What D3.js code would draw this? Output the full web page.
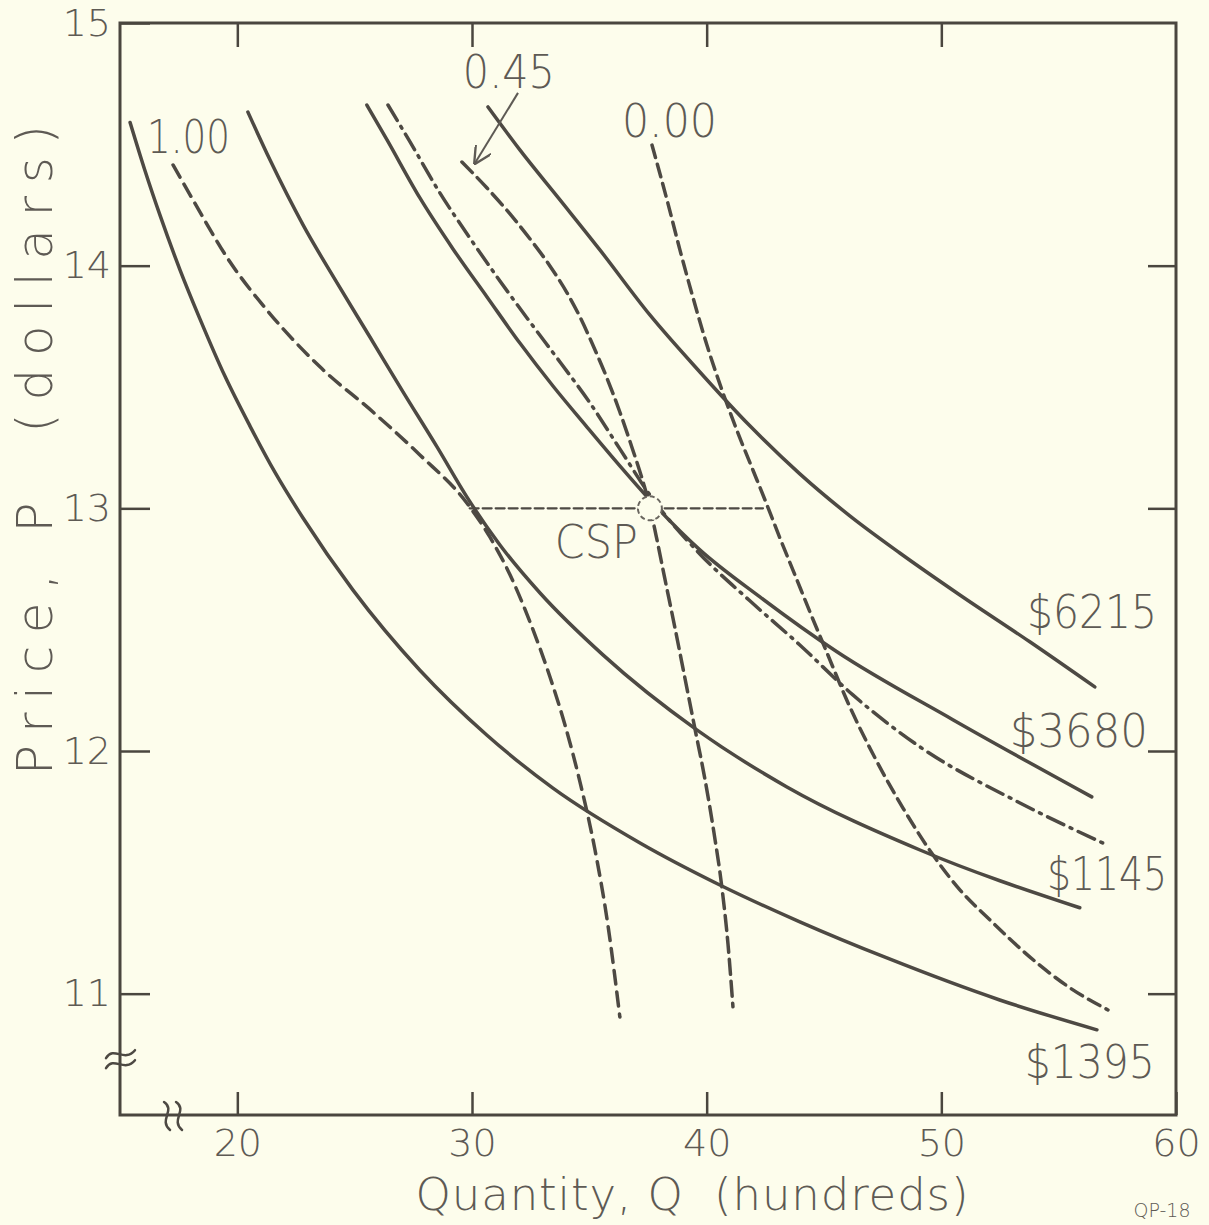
<!DOCTYPE html>
<meta charset="utf-8">
<style>
body { margin: 0; background: #fdfdec; }
svg { display: block; }
.frame { fill: none; stroke: #4a463f; stroke-width: 3px; }
.axis path.domain { display: none; }
.axis line { stroke: #4a463f; stroke-width: 2.5px; }
.axis text { font-family: "DejaVu Sans", sans-serif; font-weight: 200; font-size: 38px; fill: #5e5a54; }
.curve { fill: none; stroke: #4d4943; stroke-width: 3.5px; stroke-linecap: round; }
.lbl { font-family: "DejaVu Sans", sans-serif; font-weight: 200; fill: #5e5a54; white-space: pre; }
</style>
<svg width="1209" height="1225"></svg>
<script src="https://d3js.org/d3.v7.min.js"></script>
<script>
// tick values
var qTicks = [20, 30, 40, 50, 60];
var pTicks = [11, 12, 13, 14, 15];

// curves: [quantity (hundreds), price (dollars)]
var profit6215 = [[30.68,14.654],[32.04,14.477],[33.75,14.271],[35.45,14.065],[37.58,13.797],[39.71,13.562],
  [41.84,13.34],[43.97,13.142],[46.1,12.969],[48.23,12.816],[50.79,12.643],[53.77,12.45],[56.54,12.264]];
var profit3680 = [[25.52,14.662],[26.38,14.518],[27.78,14.279],[29.19,14.069],[30.64,13.871],[32.04,13.681],
  [33.45,13.504],[34.9,13.335],[36.3,13.175],[37.58,13.035],[39.71,12.829],[42.27,12.635],[45.55,12.409],
  [50.49,12.129],[56.41,11.811]];
var profit1145 = [[20.45,14.633],[21.39,14.436],[22.8,14.168],[24.25,13.929],[25.65,13.706],[27.06,13.48],
  [28.51,13.253],[29.78,13.047],[31.19,12.849],[32.9,12.651],[35.58,12.396],[39.58,12.087],[43.42,11.852],
  [49.09,11.592],[55.9,11.354]];
var profit1395 = [[15.43,14.59],[16.07,14.39],[16.7,14.209],[17.56,13.982],[18.41,13.78],[19.47,13.545],
  [20.54,13.339],[21.6,13.149],[22.8,12.96],[24.93,12.663],[27.78,12.333],[30.64,12.065],[33.45,11.847],
  [37.16,11.621],[40.56,11.448],[43.97,11.296],[47.68,11.147],[52.49,10.974],[56.63,10.851]];
var demand100 = [[17.26,14.415],[18.11,14.271],[19.69,14.015],[21.26,13.817],[23.52,13.583],[25.78,13.397],
  [27.78,13.22],[29.78,13.022],[30.76,12.882],[31.62,12.726],[32.47,12.532],[33.32,12.306],[33.96,12.108],
  [34.6,11.873],[35.24,11.593],[35.79,11.284],[36.3,10.904]];
var demandDashDot = [[26.42,14.662],[27.36,14.51],[28.63,14.3],[29.91,14.114],[31.19,13.937],[32.47,13.768],
  [33.75,13.603],[35.03,13.434],[36.3,13.245],[37.58,13.055],[39.71,12.812],[41.84,12.619],[43.97,12.437],
  [46.23,12.231],[49.09,12.017],[53.35,11.786],[56.88,11.621]];
var demand045 = [[29.57,14.427],[30.64,14.32],[31.62,14.213],[32.6,14.094],[33.32,13.999],[34.05,13.888],
  [34.6,13.789],[35.15,13.673],[35.75,13.537],[36.3,13.397],[36.81,13.253],[37.24,13.125],[37.54,13.022],
  [37.84,12.89],[38.22,12.709],[38.65,12.507],[39.07,12.302],[39.5,12.092],[39.93,11.882],[40.31,11.664],
  [40.65,11.437],[40.91,11.203],[41.12,10.946]];
var demand000 = [[37.67,14.497],[38.31,14.271],[38.86,14.065],[39.41,13.871],[40.01,13.673],[40.65,13.488],
  [41.33,13.311],[41.97,13.158],[42.57,13.014],[43.12,12.878],[43.76,12.726],[44.4,12.573],[45.04,12.425],
  [46.1,12.182],[47.17,11.972],[48.36,11.766],[49.64,11.572],[50.79,11.428],[52.07,11.304],[54.07,11.127],
  [55.48,11.024],[57.1,10.933]];
var priceLine = [[29.9,13],[42.4,13]];
var csp = [37.58, 13.0];

var svg = d3.select("svg"),
    W = +svg.attr("width"), H = +svg.attr("height");

var x = d3.scaleLinear().domain([15, 60]).range([120, 1176]);
var y = d3.scaleLinear().domain([10.5, 15]).range([1115, 23]);

svg.append("rect").attr("width", W).attr("height", H).attr("fill", "#fdfdec");

// axes, ticks pointing inward
svg.append("g").attr("class", "axis")
    .attr("transform", "translate(0," + y(10.5) + ")")
    .call(d3.axisBottom(x).tickValues(qTicks).tickFormat(d3.format("d"))
      .tickSizeInner(-23).tickSizeOuter(0).tickPadding(14));
svg.append("g").attr("class", "axis")
    .attr("transform", "translate(" + x(15) + ",0)")
    .call(d3.axisLeft(y).tickValues(pTicks).tickFormat(d3.format("d"))
      .tickSizeInner(-30).tickSizeOuter(0).tickPadding(9));
svg.append("g").attr("class", "axis")
    .attr("transform", "translate(0," + y(15) + ")")
    .call(d3.axisTop(x).tickValues(qTicks.slice(0, 4)).tickSizeInner(-24).tickSizeOuter(0).tickFormat(""));
svg.append("g").attr("class", "axis")
    .attr("transform", "translate(" + x(60) + ",0)")
    .call(d3.axisRight(y).tickValues(pTicks.slice(0, 4)).tickSizeInner(-28).tickSizeOuter(0).tickFormat(""));

svg.append("rect").attr("class", "frame")
    .attr("x", x(15)).attr("y", y(15))
    .attr("width", x(60) - x(15)).attr("height", y(10.5) - y(15));

// axis break marks
var yb = y(10.73), x0 = x(15);
[-5, 5].forEach(function(d) {
  svg.append("path").attr("class", "curve").style("stroke-width", "2.5px")
    .attr("d", "M" + (x0 - 14) + "," + (yb + d + 4) + " C" + (x0 - 6) + "," + (yb + d - 9) + " " +
               (x0 + 4) + "," + (yb + d + 9) + " " + (x0 + 15) + "," + (yb + d - 4));
});
var xb = x(17.26), y0 = y(10.5);
[-6, 6].forEach(function(d) {
  svg.append("path").attr("class", "curve").style("stroke-width", "2.5px")
    .attr("d", "M" + (xb + d - 3) + "," + (y0 - 13) + " C" + (xb + d + 9) + "," + (y0 - 5) + " " +
               (xb + d - 9) + "," + (y0 + 5) + " " + (xb + d + 3) + "," + (y0 + 15));
});

var line = d3.line()
    .x(function(d) { return x(d[0]); })
    .y(function(d) { return y(d[1]); })
    .curve(d3.curveMonotoneX);

var curves = [
  { pts: profit6215, dash: null },
  { pts: profit3680, dash: null },
  { pts: profit1145, dash: null },
  { pts: profit1395, dash: null },
  { pts: demand100, dash: "14,8" },
  { pts: demandDashDot, dash: "18,7,2,7" },
  { pts: demand045, dash: "15,7" },
  { pts: demand000, dash: "13,7" }
];

svg.selectAll("path.series")
  .data(curves)
  .enter().append("path")
    .attr("class", "curve series")
    .attr("d", function(d) { return line(d.pts); })
    .style("stroke-dasharray", function(d) { return d.dash; });

// price line through CSP
svg.append("path").attr("class", "curve")
    .attr("d", line(priceLine))
    .style("stroke-width", "2.2px")
    .style("stroke-dasharray", "9,4");

svg.append("circle")
    .attr("cx", x(csp[0])).attr("cy", y(csp[1])).attr("r", 12)
    .attr("fill", "#fdfdec").attr("stroke", "#6a665f").attr("stroke-width", 2)
    .attr("stroke-dasharray", "5,3");

// arrow for 0.45 label
svg.append("defs").append("marker")
    .attr("id", "arr").attr("viewBox", "0 0 10 10").attr("refX", 9).attr("refY", 5)
    .attr("markerWidth", 9).attr("markerHeight", 9).attr("orient", "auto")
  .append("path").attr("d", "M0,0 L10,5 L0,10").attr("fill", "none")
    .attr("stroke", "#5e5a54").attr("stroke-width", 1.3);
svg.append("line")
    .attr("x1", x(31.96)).attr("y1", y(14.712))
    .attr("x2", x(30.13)).attr("y2", y(14.423))
    .attr("stroke", "#5e5a54").attr("stroke-width", 2)
    .attr("marker-end", "url(#arr)");

// curve labels
var labels = [
  { t: "$6215", q: 53.65, p: 12.507, w: 130 },
  { t: "$3680", q: 52.92, p: 12.017, w: 138 },
  { t: "$1145", q: 54.5, p: 11.428, w: 120 },
  { t: "$1395", q: 53.56, p: 10.653, w: 130 },
  { t: "1.00", q: 16.15, p: 14.464, w: 83 },
  { t: "0.45", q: 29.61, p: 14.732, w: 92 },
  { t: "0.00", q: 36.39, p: 14.53, w: 95 },
  { t: "CSP", q: 33.53, p: 12.796, w: 83 }
];
svg.selectAll("text.cl")
  .data(labels)
  .enter().append("text")
    .attr("class", "lbl cl")
    .attr("x", function(d) { return x(d.q); })
    .attr("y", function(d) { return y(d.p); })
    .attr("font-size", 47)
    .attr("textLength", function(d) { return d.w; })
    .attr("lengthAdjust", "spacingAndGlyphs")
    .text(function(d) { return d.t; });

// axis titles
svg.append("text").attr("class", "lbl")
    .attr("x", 692).attr("y", 1210)
    .attr("text-anchor", "middle").attr("font-size", 45)
    .attr("textLength", 553).attr("lengthAdjust", "spacing")
    .text("Quantity, Q  (hundreds)");

svg.append("text").attr("class", "lbl")
    .attr("transform", "translate(52,450) rotate(-90)")
    .attr("text-anchor", "middle").attr("font-size", 50)
    .attr("textLength", 650).attr("lengthAdjust", "spacing")
    .text("Price, P  (dollars)");

svg.append("text").attr("class", "lbl")
    .attr("x", 1162).attr("y", 1217)
    .attr("text-anchor", "middle").attr("font-size", 19)
    .text("QP-18");
</script>
